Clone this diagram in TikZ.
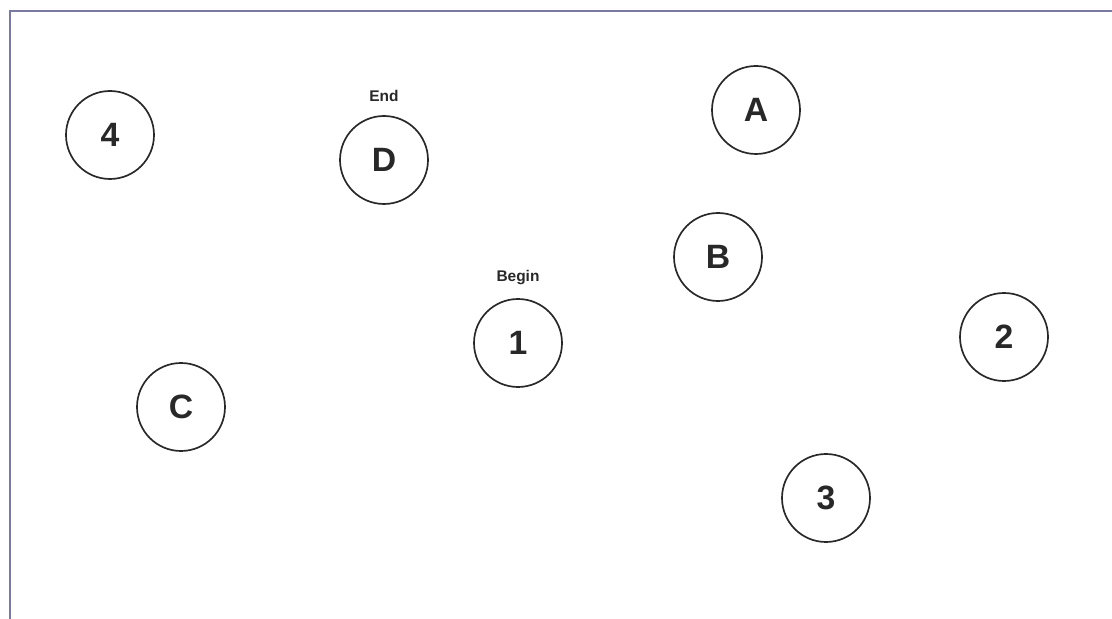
\documentclass[tikz,border=0pt]{standalone}
\usepackage{fontspec}
\setmainfont{Liberation Sans}
\usetikzlibrary{positioning}
\definecolor{framecol}{RGB}{120,120,170}
\definecolor{inkcol}{RGB}{40,40,40}
\begin{document}
\begin{tikzpicture}[
  pnode/.style={circle, draw=inkcol, line width=1.2pt, minimum size=2.2cm, inner sep=0pt,
    text=inkcol, font=\fontsize{24}{26}\selectfont\bfseries},
  tag/.style={text=inkcol, font=\fontsize{11}{13}\selectfont\bfseries, inner sep=1pt}
]
  \useasboundingbox (0,0) rectangle (27.8,15.475);
  \draw[framecol, line width=1pt] (0.25,0) -- (0.25,15.2) -- (27.8,15.2);
  \foreach \n/\x/\y in {4/2.75/12.1, D/9.6/11.475, A/18.9/12.725, B/17.95/9.05,
                        1/12.95/6.9, 2/25.1/7.05, C/4.525/5.3, 3/20.65/3.025} {
    \node[pnode] (p\n) at (\x,\y) {\n};
  }
  \node[tag, above=0.3cm of pD] (tEnd) {End};
  \node[tag, above=0.3cm of p1] (tBegin) {Begin};
\end{tikzpicture}
\end{document}
